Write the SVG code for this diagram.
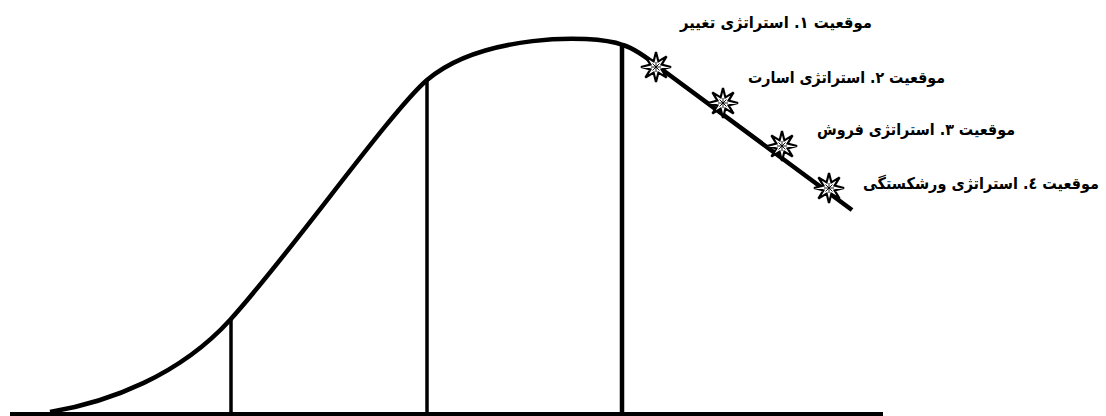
<svg xmlns="http://www.w3.org/2000/svg" width="1106" height="416" viewBox="0 0 1106 416">
<style>
.ln{stroke:#000;fill:none;stroke-linecap:butt}
.lbl{font-family:"DejaVu Sans",sans-serif;font-weight:bold;font-size:16px;fill:#000;text-anchor:end}
.star{fill:#fff;stroke:#000;stroke-width:2.2;stroke-linejoin:miter}
.spoke{stroke:#000;stroke-width:0.9}
</style>
<defs>
<g id="starShape">
<polygon class="star" points="0,-15 2.4,-5.6 10.6,-10.6 5.6,-2.4 15,0 5.6,2.4 10.6,10.6 2.4,5.6 0,15 -2.4,5.6 -10.6,10.6 -5.6,2.4 -15,0 -5.6,-2.4 -10.6,-10.6 -2.4,-5.6"/>
<path class="spoke" d="M0,-5V5M-5,0H5M-3.5,-3.5L3.5,3.5M-3.5,3.5L3.5,-3.5"/>
</g>
</defs>
<rect width="1106" height="416" fill="#fff"/>
<g id="connectors">
<path id="axis" class="ln" stroke-width="4" d="M10,414H883"/>
<path id="v1" class="ln" stroke-width="3.5" d="M231,320V414"/>
<path id="v2" class="ln" stroke-width="3.5" d="M427,80V414"/>
<path id="v3" class="ln" stroke-width="4.5" d="M622,44V414"/>
<path id="curve" class="ln" stroke-width="4.5" stroke-linejoin="round" d="M50,412 C110,402 180,375 230,320 C290,254 390,112 427,80 C480,35 590,33 623,45 C633,48 645,56 660,68 L852,210"/>
</g>
<g id="star1"><use href="#starShape" x="656" y="67"/></g>
<g id="star2"><use href="#starShape" x="723" y="103"/></g>
<g id="star3"><use href="#starShape" x="782" y="146"/></g>
<g id="star4"><use href="#starShape" x="829" y="188"/></g>
<g id="label1"><text class="lbl" x="872" y="28" textLength="192" lengthAdjust="spacingAndGlyphs">موقعیت ۱. استراتژی تغییر</text></g>
<g id="label2"><text class="lbl" x="945" y="83" textLength="197" lengthAdjust="spacingAndGlyphs">موقعیت ۲. استراتژی اسارت</text></g>
<g id="label3"><text class="lbl" x="1015" y="135" textLength="198" lengthAdjust="spacingAndGlyphs">موقعیت ۳. استراتژی فروش</text></g>
<g id="label4"><text class="lbl" x="1099" y="189" textLength="236" lengthAdjust="spacingAndGlyphs">موقعیت ٤. استراتژی ورشکستگی</text></g>
</svg>
